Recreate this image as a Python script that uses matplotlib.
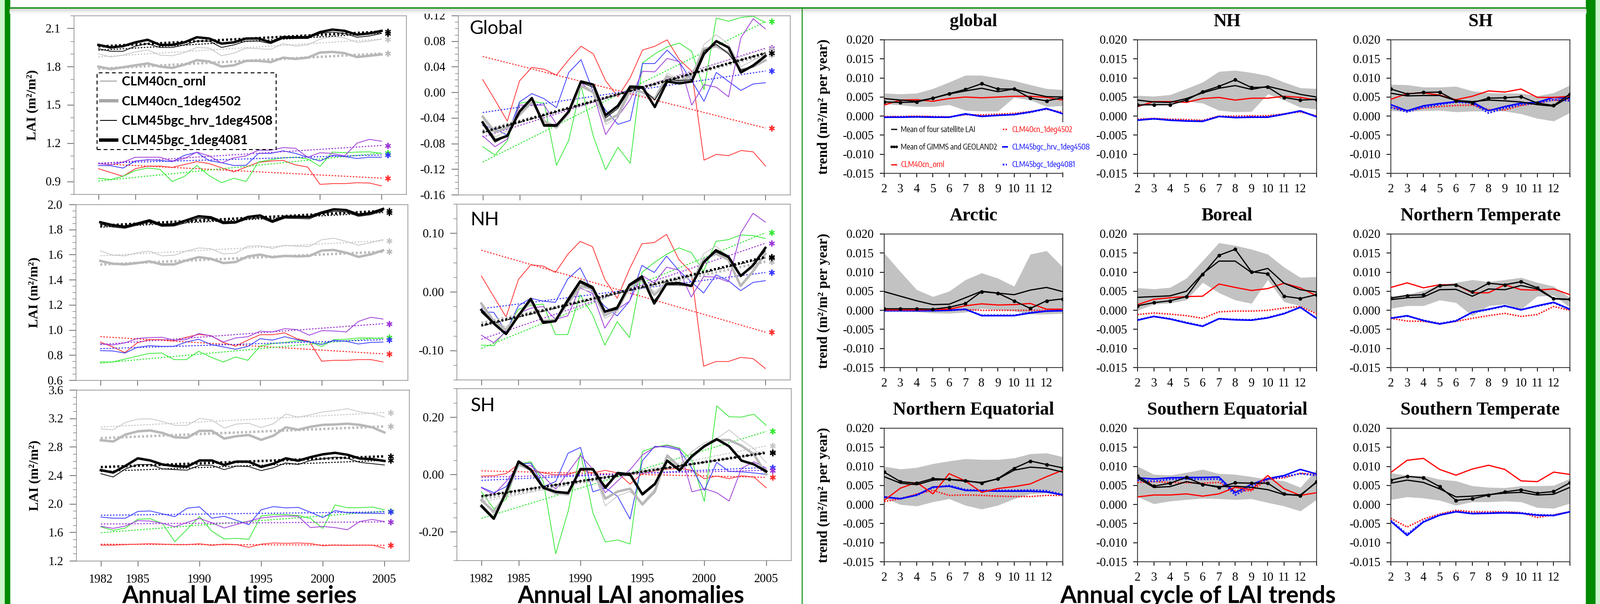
import numpy as np
import matplotlib.pyplot as plt
from matplotlib import font_manager
from matplotlib.font_manager import FontProperties
from matplotlib.lines import Line2D
from matplotlib.patches import Rectangle
from matplotlib.ticker import FixedLocator, FuncFormatter

plt.rcParams['font.family'] = ['Liberation Serif', 'DejaVu Serif']
SANS = ['Lato', 'Open Sans', 'DejaVu Sans']
_names = sorted({f.name for f in font_manager.fontManager.ttflist})
_narrow = [n for n in _names if 'Sans' in n and ('Narrow' in n or 'Condensed' in n)]
if _narrow:
    NARROW, NARROW_SIZE, NARROW_SPACING = [_narrow[0]], 11.5, 1.2
else:
    NARROW, NARROW_SIZE, NARROW_SPACING = ['Liberation Sans', 'DejaVu Sans'], 8.5, 1.9

years = np.arange(1982, 2006)
year_ticks = [1982, 1985, 1990, 1995, 2000, 2005]
months = np.arange(12)
month_labels = ['2', '3', '4', '5', '6', '7', '8', '9', '10', '11', '12', '']

model_names = ['CLM40cn_ornl', 'CLM40cn_1deg4502', 'CLM45bgc_hrv_1deg4508', 'CLM45bgc_1deg4081']
cycle_names = ['Mean of four satellite LAI', 'Mean of GIMMS and GEOLAND2', 'CLM40cn_ornl',
               'CLM40cn_1deg4502', 'CLM45bgc_hrv_1deg4508', 'CLM45bgc_1deg4081']

RED, GREEN, BLUE, PURPLE = '#ff2b2b', '#33e833', '#3434ff', '#9b35d8'
ORNL_C, C4502_C = '#c4c4c4', '#b8b8b8'

# ---------------- annual LAI time series (m2/m2) ----------------
g_ornl = [1.90, 1.875, 1.89, 1.915, 1.93, 1.89, 1.885, 1.91, 1.95, 1.945, 1.885, 1.905, 1.945, 1.94, 1.935, 1.98, 1.96, 1.97, 2.015, 2.035, 2.025, 1.99, 2.00, 2.015]
g_4502 = [1.80, 1.78, 1.795, 1.81, 1.825, 1.80, 1.79, 1.815, 1.85, 1.84, 1.80, 1.81, 1.845, 1.845, 1.835, 1.87, 1.86, 1.87, 1.91, 1.915, 1.905, 1.875, 1.885, 1.895]
g_hrv = [1.94, 1.92, 1.92, 1.96, 1.98, 1.95, 1.95, 1.97, 2.00, 2.00, 1.95, 1.97, 2.00, 2.00, 1.98, 2.02, 2.02, 2.02, 2.06, 2.07, 2.06, 2.03, 2.04, 2.06]
g_bgc = [1.97, 1.95, 1.96, 1.99, 2.01, 1.97, 1.97, 1.99, 2.03, 2.02, 1.98, 1.99, 2.02, 2.02, 1.99, 2.03, 2.03, 2.03, 2.07, 2.09, 2.08, 2.05, 2.06, 2.08]
g_red = [1.00, 0.97, 0.94, 1.00, 1.02, 1.02, 1.01, 1.033, 1.055, 1.04, 1.007, 0.975, 1.013, 1.05, 1.06, 1.065, 1.03, 1.013, 0.877, 0.883, 0.883, 0.89, 0.888, 0.865]
g_green = [0.925, 0.915, 0.94, 0.985, 1.005, 0.995, 0.90, 0.94, 1.025, 0.945, 0.89, 0.925, 0.90, 1.053, 1.07, 1.085, 1.09, 1.077, 1.018, 1.13, 1.125, 1.13, 1.132, 1.12]
g_blue = [1.025, 1.023, 1.005, 1.06, 1.07, 1.065, 1.055, 1.105, 1.128, 1.063, 1.047, 1.025, 1.027, 1.12, 1.12, 1.14, 1.12, 1.09, 1.06, 1.105, 1.095, 1.08, 1.09, 1.09]
g_purple = [1.04, 1.03, 1.05, 1.09, 1.09, 1.09, 1.06, 1.08, 1.13, 1.10, 1.045, 1.085, 1.10, 1.145, 1.145, 1.165, 1.16, 1.09, 1.125, 1.12, 1.10, 1.20, 1.23, 1.215]

n_ornl = [1.63, 1.595, 1.59, 1.615, 1.628, 1.59, 1.595, 1.628, 1.653, 1.647, 1.606, 1.611, 1.667, 1.67, 1.65, 1.675, 1.667, 1.664, 1.718, 1.731, 1.705, 1.675, 1.695, 1.72]
n_4502 = [1.55, 1.528, 1.522, 1.533, 1.546, 1.522, 1.522, 1.554, 1.58, 1.567, 1.533, 1.541, 1.586, 1.60, 1.579, 1.59, 1.586, 1.589, 1.632, 1.637, 1.615, 1.582, 1.602, 1.634]
n_hrv = [1.845, 1.82, 1.81, 1.835, 1.86, 1.825, 1.828, 1.855, 1.89, 1.885, 1.845, 1.85, 1.885, 1.895, 1.855, 1.89, 1.888, 1.885, 1.925, 1.945, 1.94, 1.905, 1.918, 1.95]
n_bgc = [1.858, 1.835, 1.822, 1.847, 1.873, 1.837, 1.84, 1.873, 1.906, 1.897, 1.857, 1.858, 1.90, 1.912, 1.867, 1.902, 1.902, 1.90, 1.935, 1.961, 1.955, 1.918, 1.931, 1.964]
n_red = [0.904, 0.865, 0.82, 0.897, 0.923, 0.923, 0.913, 0.942, 0.964, 0.955, 0.90, 0.871, 0.919, 0.962, 0.962, 0.977, 0.93, 0.91, 0.751, 0.758, 0.758, 0.764, 0.764, 0.745]
n_green = [0.745, 0.745, 0.768, 0.791, 0.813, 0.816, 0.764, 0.764, 0.83, 0.783, 0.745, 0.785, 0.758, 0.871, 0.891, 0.90, 0.913, 0.908, 0.868, 0.923, 0.926, 0.936, 0.936, 0.93]
n_blue = [0.835, 0.833, 0.816, 0.861, 0.875, 0.869, 0.869, 0.904, 0.926, 0.884, 0.865, 0.846, 0.869, 0.93, 0.919, 0.946, 0.923, 0.904, 0.884, 0.917, 0.91, 0.888, 0.901, 0.904]
n_purple = [0.891, 0.88, 0.897, 0.932, 0.939, 0.942, 0.919, 0.923, 0.972, 0.953, 0.904, 0.936, 0.946, 0.99, 0.984, 1.01, 1.003, 0.958, 0.994, 0.992, 0.984, 1.068, 1.101, 1.087]

s_ornl = [3.052, 3.041, 3.143, 3.189, 3.195, 3.155, 3.102, 3.102, 3.20, 3.177, 3.064, 3.12, 3.132, 3.07, 3.125, 3.261, 3.216, 3.25, 3.291, 3.309, 3.336, 3.291, 3.268, 3.218]
s_4502 = [2.893, 2.875, 2.973, 3.018, 3.03, 2.995, 2.934, 2.927, 3.025, 3.025, 2.916, 2.95, 2.966, 2.898, 2.957, 3.075, 3.041, 3.082, 3.109, 3.114, 3.125, 3.109, 3.075, 3.002]
s_hrv = [2.423, 2.377, 2.491, 2.552, 2.552, 2.491, 2.48, 2.473, 2.541, 2.541, 2.48, 2.53, 2.523, 2.466, 2.507, 2.575, 2.552, 2.609, 2.632, 2.655, 2.639, 2.582, 2.564, 2.545]
s_bgc = [2.473, 2.439, 2.534, 2.639, 2.609, 2.552, 2.53, 2.523, 2.609, 2.609, 2.545, 2.593, 2.591, 2.518, 2.564, 2.639, 2.605, 2.655, 2.695, 2.716, 2.689, 2.636, 2.627, 2.602]
s_red = [1.42, 1.42, 1.427, 1.434, 1.439, 1.434, 1.427, 1.427, 1.439, 1.416, 1.434, 1.427, 1.389, 1.434, 1.45, 1.445, 1.45, 1.443, 1.411, 1.42, 1.416, 1.42, 1.42, 1.377]
s_green = [1.677, 1.627, 1.661, 1.784, 1.791, 1.723, 1.468, 1.643, 1.82, 1.616, 1.507, 1.514, 1.502, 1.83, 1.848, 1.848, 1.836, 1.795, 1.655, 1.984, 1.945, 1.945, 1.955, 1.916]
s_blue = [1.814, 1.798, 1.798, 1.893, 1.90, 1.859, 1.82, 1.939, 1.957, 1.798, 1.825, 1.768, 1.707, 1.916, 1.961, 1.943, 1.95, 1.882, 1.807, 1.905, 1.875, 1.87, 1.866, 1.864]
s_purple = [1.684, 1.655, 1.689, 1.764, 1.757, 1.727, 1.677, 1.739, 1.795, 1.734, 1.661, 1.711, 1.757, 1.802, 1.82, 1.83, 1.825, 1.666, 1.682, 1.666, 1.636, 1.752, 1.78, 1.752]

# ---------------- annual LAI anomalies ----------------
ga_ornl = [-0.04, -0.07, -0.06, -0.03, -0.012, -0.05, -0.055, -0.035, 0.01, 0.005, -0.05, -0.04, 0.0, -0.005, -0.01, 0.03, 0.02, 0.025, 0.075, 0.09, 0.075, 0.04, 0.05, 0.06]
ga_4502 = [-0.038, -0.062, -0.055, -0.035, -0.015, -0.045, -0.055, -0.03, 0.01, 0.0, -0.045, -0.035, 0.005, 0.0, -0.01, 0.025, 0.018, 0.025, 0.068, 0.072, 0.062, 0.035, 0.04, 0.05]
ga_hrv = [-0.05, -0.078, -0.068, -0.028, -0.01, -0.05, -0.05, -0.03, 0.015, 0.008, -0.04, -0.025, 0.006, 0.006, -0.012, 0.02, 0.018, 0.02, 0.065, 0.075, 0.06, 0.035, 0.04, 0.055]
ga_bgc = [-0.047, -0.075, -0.068, -0.03, -0.009, -0.052, -0.052, -0.03, 0.017, 0.012, -0.036, -0.021, 0.009, 0.008, -0.023, 0.017, 0.014, 0.017, 0.06, 0.08, 0.07, 0.031, 0.042, 0.057]
ga_red = [0.02, -0.012, -0.045, 0.018, 0.039, 0.036, 0.027, 0.051, 0.072, 0.06, 0.018, -0.007, 0.023, 0.066, 0.072, 0.082, 0.051, 0.033, -0.106, -0.097, -0.099, -0.091, -0.093, -0.115]
ga_green = [-0.085, -0.098, -0.076, -0.017, -0.014, -0.017, -0.114, -0.075, 0.01, -0.069, -0.121, -0.086, -0.111, 0.046, 0.06, 0.071, 0.077, 0.064, 0.004, 0.116, 0.111, 0.117, 0.119, 0.109]
ga_blue = [-0.052, -0.057, -0.067, -0.015, -0.002, -0.01, -0.024, 0.031, 0.051, 0.0, -0.028, -0.05, -0.044, 0.045, 0.045, 0.066, 0.047, 0.018, -0.014, 0.031, 0.017, 0.003, 0.013, 0.015]
ga_purple = [-0.068, -0.085, -0.073, -0.02, -0.02, -0.02, -0.05, -0.03, 0.015, -0.002, -0.066, -0.038, -0.011, 0.033, 0.032, 0.053, 0.048, -0.02, 0.012, 0.008, -0.007, 0.085, 0.115, 0.099]

na_ornl = [-0.025, -0.05, -0.06, -0.042, -0.02, -0.05, -0.05, -0.022, 0.005, 0.0, -0.045, -0.035, 0.005, 0.02, 0.0, 0.015, 0.01, 0.012, 0.065, 0.078, 0.06, 0.03, 0.04, 0.06]
na_4502 = [-0.02, -0.05, -0.065, -0.04, -0.015, -0.05, -0.048, -0.02, 0.01, 0.005, -0.04, -0.03, 0.01, 0.02, -0.005, 0.012, 0.012, 0.01, 0.055, 0.065, 0.055, 0.01, 0.035, 0.065]
na_hrv = [-0.035, -0.055, -0.07, -0.04, -0.015, -0.05, -0.05, -0.018, 0.015, 0.005, -0.035, -0.03, 0.01, 0.022, -0.015, 0.012, 0.012, 0.01, 0.05, 0.068, 0.058, 0.028, 0.045, 0.07]
na_bgc = [-0.031, -0.054, -0.072, -0.041, -0.012, -0.053, -0.05, -0.014, 0.018, 0.008, -0.034, -0.027, 0.012, 0.026, -0.02, 0.014, 0.015, 0.01, 0.05, 0.071, 0.06, 0.027, 0.045, 0.075]
na_red = [0.027, -0.008, -0.043, 0.021, 0.046, 0.044, 0.033, 0.064, 0.086, 0.077, 0.021, -0.011, 0.039, 0.082, 0.084, 0.098, 0.055, 0.033, -0.127, -0.119, -0.119, -0.112, -0.114, -0.131]
na_green = [-0.091, -0.092, -0.065, -0.03, -0.023, -0.021, -0.073, -0.073, -0.005, -0.039, -0.091, -0.051, -0.078, 0.033, 0.05, 0.064, 0.075, 0.067, 0.035, 0.086, 0.089, 0.097, 0.096, 0.091]
na_blue = [-0.034, -0.035, -0.068, -0.024, -0.011, -0.016, -0.018, 0.022, 0.041, -0.001, -0.025, -0.041, -0.016, 0.045, 0.033, 0.061, 0.036, 0.017, -0.002, 0.029, 0.019, 0.002, 0.016, 0.019]
na_purple = [-0.074, -0.087, -0.068, -0.037, -0.028, -0.025, -0.047, -0.041, 0.007, -0.003, -0.062, -0.03, -0.016, 0.028, 0.015, 0.042, 0.037, -0.009, 0.026, 0.025, 0.017, 0.1, 0.134, 0.119]

sa_ornl = [-0.08, -0.14, -0.07, 0.03, 0.02, -0.05, -0.07, -0.07, 0.02, 0.02, -0.11, -0.075, -0.06, -0.1, -0.05, 0.07, 0.03, 0.08, 0.11, 0.125, 0.155, 0.12, 0.09, 0.04]
sa_4502 = [-0.09, -0.13, -0.07, 0.035, 0.015, -0.045, -0.065, -0.07, 0.02, 0.02, -0.085, -0.06, -0.05, -0.105, -0.06, 0.065, 0.025, 0.06, 0.10, 0.12, 0.12, 0.10, 0.07, 0.0]
sa_hrv = [-0.105, -0.15, -0.065, 0.04, 0.018, -0.045, -0.06, -0.065, 0.015, 0.015, -0.04, 0.0, -0.005, -0.065, -0.03, 0.045, 0.012, 0.06, 0.095, 0.12, 0.1, 0.05, 0.035, 0.015]
sa_bgc = [-0.111, -0.155, -0.061, 0.045, 0.016, -0.047, -0.061, -0.065, 0.018, 0.018, -0.047, 0.005, 0.0, -0.07, -0.034, 0.048, 0.014, 0.064, 0.098, 0.123, 0.098, 0.048, 0.035, 0.01]
sa_red = [-0.006, -0.005, 0.003, 0.035, 0.016, 0.005, -0.002, 0.0, 0.014, 0.005, 0.014, 0.005, -0.034, 0.003, 0.012, 0.018, 0.021, 0.014, -0.015, -0.006, -0.015, -0.005, -0.009, -0.047]
sa_green = [-0.061, -0.12, -0.086, 0.036, 0.044, -0.025, -0.277, -0.129, 0.075, -0.134, -0.236, -0.229, -0.243, 0.08, 0.095, 0.103, 0.091, 0.048, -0.095, 0.239, 0.201, 0.2, 0.21, 0.171]
sa_blue = [-0.045, -0.064, -0.043, 0.036, 0.039, -0.043, -0.025, 0.074, 0.094, -0.061, -0.047, -0.077, -0.156, 0.048, 0.098, 0.095, 0.085, 0.021, -0.056, 0.042, 0.01, 0.009, 0.005, 0.0]
sa_purple = [-0.047, -0.07, -0.025, 0.03, 0.03, -0.006, -0.052, 0.007, 0.066, 0.018, -0.064, -0.023, 0.016, 0.068, 0.094, 0.1, 0.089, -0.061, -0.05, -0.064, -0.093, 0.021, 0.044, 0.021]

# ---------------- annual cycle of LAI trends (m2/m2 per year) ----------------
glob_lo = [0.0032, 0.0029, 0.0025, 0.0025, 0.003, 0.0015, 0.0013, 0.0013, 0.0049, 0.0042, 0.0025, 0.0027]
glob_hi = [0.006, 0.0058, 0.006, 0.0072, 0.0089, 0.0107, 0.0107, 0.01, 0.0093, 0.0082, 0.0072, 0.0069]
glob_sat4 = [0.0046, 0.0042, 0.0039, 0.0047, 0.0058, 0.0066, 0.0073, 0.0064, 0.0071, 0.006, 0.0051, 0.005]
glob_gg = [0.0037, 0.0036, 0.0037, 0.0047, 0.0059, 0.007, 0.0085, 0.0071, 0.0071, 0.0047, 0.004, 0.0048]
glob_ornl = [0.0029, 0.0042, 0.0043, 0.0039, 0.0046, 0.005, 0.0048, 0.005, 0.0052, 0.0052, 0.0049, 0.0042]
glob_4502 = [-0.0001, -0.0001, 0.0, -0.0001, -0.0002, 0.0004, 0.0003, 0.0005, 0.0007, 0.0012, 0.0018, 0.001]
glob_hrv = [-0.0003, -0.0003, -0.0002, -0.0003, -0.0003, 0.0006, -0.0001, 0.0002, 0.0004, 0.0011, 0.002, 0.0006]
glob_bgc = [-0.0003, -0.0002, -0.0002, -0.0002, -0.0003, 0.0005, 0.0, 0.0002, 0.0004, 0.001, 0.0019, 0.0007]

nh_lo = [0.003, 0.0028, 0.0034, 0.0039, 0.0034, 0.0015, 0.0011, 0.0012, 0.0058, 0.0042, 0.0023, 0.0018]
nh_hi = [0.0054, 0.0052, 0.0056, 0.0072, 0.0089, 0.0117, 0.012, 0.0114, 0.0106, 0.0089, 0.0074, 0.0072]
nh_sat4 = [0.0042, 0.0037, 0.0036, 0.0046, 0.0061, 0.0073, 0.008, 0.007, 0.0078, 0.0068, 0.0057, 0.005]
nh_gg = [0.0029, 0.003, 0.003, 0.0042, 0.0064, 0.0078, 0.0095, 0.0075, 0.0076, 0.0049, 0.0042, 0.0044]
nh_ornl = [0.0025, 0.0038, 0.0038, 0.0036, 0.0046, 0.0049, 0.0042, 0.0047, 0.0047, 0.0052, 0.0049, 0.0042]
nh_4502 = [-0.0008, -0.0006, -0.0008, -0.0009, -0.0011, 0.0, 0.0, 0.0001, 0.0001, 0.0006, 0.0011, 0.0001]
nh_hrv = [-0.0011, -0.0007, -0.0011, -0.0013, -0.0014, -0.0001, -0.0004, -0.0003, -0.0003, 0.0005, 0.0014, -0.0002]
nh_bgc = [-0.001, -0.0007, -0.001, -0.0012, -0.0013, -0.0001, -0.0003, -0.0002, -0.0002, 0.0005, 0.0013, -0.0001]

sh_lo = [0.0014, 0.0012, 0.0014, 0.0015, 0.0011, 0.0013, 0.0013, 0.0013, 0.0006, -0.0006, -0.0013, 0.0009]
sh_hi = [0.0083, 0.0082, 0.0076, 0.0076, 0.0078, 0.0066, 0.0061, 0.006, 0.006, 0.0053, 0.0061, 0.0081]
sh_sat4 = [0.006, 0.0053, 0.0054, 0.0054, 0.0041, 0.0038, 0.0042, 0.004, 0.0037, 0.003, 0.0026, 0.0051]
sh_gg = [0.0071, 0.0058, 0.0062, 0.0063, 0.004, 0.0035, 0.0047, 0.0048, 0.0051, 0.0034, 0.0028, 0.0058]
sh_ornl = [0.0044, 0.0059, 0.0061, 0.0055, 0.0043, 0.0052, 0.0066, 0.0063, 0.0071, 0.0049, 0.0049, 0.0052]
sh_4502 = [0.0023, 0.0015, 0.0021, 0.0025, 0.0028, 0.0029, 0.0017, 0.0016, 0.0028, 0.0034, 0.0042, 0.0042]
sh_hrv = [0.003, 0.0014, 0.0027, 0.0033, 0.0038, 0.0037, 0.0014, 0.0025, 0.0034, 0.0036, 0.0049, 0.0046]
sh_bgc = [0.0023, 0.0011, 0.0023, 0.003, 0.0037, 0.0034, 0.0008, 0.0021, 0.003, 0.0034, 0.0043, 0.004]

arc_lo = [0.0, -0.0002, -0.0004, -0.0007, -0.0008, -0.0005, 0.0005, 0.0001, -0.0002, -0.001, -0.001, -0.0008]
arc_hi = [0.015, 0.0101, 0.0054, 0.0036, 0.005, 0.008, 0.0098, 0.0084, 0.0063, 0.0147, 0.0156, 0.0113]
arc_sat4 = [0.0049, 0.0037, 0.0025, 0.0015, 0.0016, 0.0033, 0.005, 0.0045, 0.0041, 0.0053, 0.006, 0.0049]
arc_gg = [0.0004, 0.0004, 0.0004, 0.0003, 0.0008, 0.0018, 0.0049, 0.0045, 0.0025, 0.0005, 0.0025, 0.003]
arc_ornl = [0.0001, 0.0001, 0.0001, 0.0002, 0.0003, 0.0012, 0.0017, 0.0014, 0.0015, 0.0018, 0.0003, 0.0003]
arc_4502 = [0.0001, 0.0001, 0.0001, 0.0001, 0.0001, 0.0002, 0.0, 0.0, 0.0, 0.0, 0.0, 0.0]
arc_hrv = [-0.0001, -0.0001, -0.0001, -0.0001, 0.0, 0.0003, -0.0014, -0.0014, -0.0014, -0.0007, -0.0002, -0.0001]
arc_bgc = [-0.0001, -0.0001, -0.0001, -0.0001, 0.0, 0.0002, -0.0013, -0.0013, -0.0013, -0.0006, -0.0002, -0.0001]

bor_lo = [0.0, 0.0016, 0.0019, 0.0027, 0.0073, 0.0046, 0.0027, 0.0018, 0.008, 0.0022, 0.0012, -0.0007]
bor_hi = [0.0059, 0.0056, 0.006, 0.0084, 0.013, 0.0177, 0.017, 0.016, 0.0147, 0.0113, 0.0086, 0.0088]
bor_sat4 = [0.0034, 0.0036, 0.0038, 0.005, 0.0096, 0.0129, 0.0129, 0.0099, 0.011, 0.0071, 0.0054, 0.0048]
bor_gg = [0.0012, 0.002, 0.0025, 0.0036, 0.0094, 0.0144, 0.016, 0.0101, 0.0096, 0.0037, 0.0031, 0.0041]
bor_ornl = [0.0015, 0.0029, 0.0033, 0.0036, 0.0037, 0.0069, 0.006, 0.0052, 0.0057, 0.0071, 0.0059, 0.0038]
bor_4502 = [-0.0011, -0.0007, -0.001, -0.0014, -0.0021, -0.0004, -0.0002, -0.0002, 0.0, 0.0006, 0.001, -0.0009]
bor_hrv = [-0.0026, -0.0016, -0.0023, -0.0033, -0.0042, -0.0022, -0.0025, -0.0026, -0.002, -0.0009, 0.0008, -0.0021]
bor_bgc = [-0.0025, -0.0016, -0.0022, -0.0032, -0.0041, -0.0022, -0.0024, -0.0025, -0.0019, -0.0008, 0.0008, -0.0021]

ntm_lo = [0.0005, 0.0012, 0.0012, 0.0027, 0.002, -0.0014, 0.0012, 0.0016, 0.0003, 0.0037, 0.0039, 0.0008]
ntm_hi = [0.0037, 0.0041, 0.0052, 0.0067, 0.0073, 0.008, 0.0075, 0.008, 0.0086, 0.0073, 0.0063, 0.0033]
ntm_sat4 = [0.0028, 0.0033, 0.0035, 0.0054, 0.0055, 0.0037, 0.0056, 0.0054, 0.0065, 0.0056, 0.003, 0.0028]
ntm_gg = [0.0032, 0.0039, 0.0041, 0.0065, 0.0067, 0.0048, 0.0071, 0.0067, 0.0075, 0.0059, 0.0031, 0.0029]
ntm_ornl = [0.006, 0.0072, 0.0059, 0.0067, 0.0067, 0.0046, 0.0046, 0.0067, 0.0054, 0.0053, 0.0056, 0.0041]
ntm_4502 = [-0.0021, -0.0028, -0.0029, -0.0035, -0.0029, -0.0021, -0.0014, -0.0008, -0.0016, -0.0011, 0.001, 0.0]
ntm_hrv = [-0.0021, -0.0014, -0.0027, -0.0036, -0.0028, -0.0005, 0.0003, 0.0012, 0.0001, 0.0012, 0.0021, 0.0003]
ntm_bgc = [-0.002, -0.0015, -0.0026, -0.0035, -0.0027, -0.0006, 0.0002, 0.0011, 0.0002, 0.0011, 0.002, 0.0002]

neq_lo = [0.0017, 0.0, -0.0004, 0.0007, 0.0015, -0.0002, -0.0012, -0.0002, 0.0015, 0.0028, 0.003, 0.0026]
neq_hi = [0.01, 0.0093, 0.0097, 0.0107, 0.0114, 0.012, 0.0118, 0.0118, 0.0122, 0.0133, 0.0135, 0.0125]
neq_sat4 = [0.0073, 0.0056, 0.0052, 0.0064, 0.0066, 0.0061, 0.0058, 0.0067, 0.009, 0.0098, 0.0095, 0.0085]
neq_gg = [0.0085, 0.006, 0.0056, 0.0068, 0.0066, 0.0063, 0.0056, 0.0068, 0.0095, 0.0114, 0.0105, 0.0096]
neq_ornl = [0.0011, 0.0043, 0.0058, 0.0028, 0.0081, 0.0062, 0.0032, 0.0042, 0.0047, 0.0054, 0.0073, 0.009]
neq_4502 = [0.0008, 0.0015, 0.0028, 0.0037, 0.0024, 0.0025, 0.0024, 0.0022, 0.0021, 0.0021, 0.0024, 0.0024]
neq_hrv = [0.002, 0.0015, 0.0025, 0.0046, 0.0048, 0.0037, 0.0036, 0.0035, 0.0035, 0.0035, 0.0033, 0.0025]
neq_bgc = [0.0019, 0.0016, 0.0024, 0.0044, 0.005, 0.0039, 0.0037, 0.0037, 0.0037, 0.0038, 0.0036, 0.0026]

seq_lo = [0.002, 0.0002, 0.0009, 0.0013, 0.0016, 0.0015, 0.0013, 0.0015, 0.0005, -0.0004, -0.0017, 0.0013]
seq_hi = [0.01, 0.0079, 0.0077, 0.0084, 0.0092, 0.0081, 0.0079, 0.0073, 0.0066, 0.0062, 0.0045, 0.0092]
seq_sat4 = [0.007, 0.0045, 0.0047, 0.006, 0.0053, 0.0047, 0.0048, 0.0045, 0.0039, 0.0026, 0.0025, 0.0058]
seq_gg = [0.0075, 0.0048, 0.0056, 0.0071, 0.0053, 0.0045, 0.0057, 0.0056, 0.0056, 0.0028, 0.0023, 0.006]
seq_ornl = [0.002, 0.0025, 0.0025, 0.0028, 0.0022, 0.0028, 0.0045, 0.0039, 0.0076, 0.0041, 0.0024, 0.0031]
seq_4502 = [0.0058, 0.006, 0.0058, 0.0057, 0.0056, 0.0058, 0.0036, 0.0036, 0.0066, 0.007, 0.0082, 0.0079]
seq_hrv = [0.007, 0.0067, 0.007, 0.0071, 0.0071, 0.0072, 0.0031, 0.0053, 0.0068, 0.0076, 0.0092, 0.008]
seq_bgc = [0.0064, 0.0061, 0.0066, 0.0067, 0.0066, 0.0067, 0.0025, 0.0047, 0.0066, 0.0073, 0.0081, 0.0076]

stm_lo = [0.0013, 0.002, 0.0017, 0.0011, -0.0002, 0.0007, 0.0007, 0.0009, 0.0007, -0.0008, -0.001, 0.0003]
stm_hi = [0.0083, 0.0076, 0.0076, 0.0066, 0.0062, 0.0049, 0.0045, 0.0044, 0.0049, 0.0049, 0.005, 0.0068]
stm_sat4 = [0.0056, 0.0064, 0.0058, 0.0041, 0.002, 0.0022, 0.0026, 0.003, 0.0032, 0.0025, 0.0027, 0.0045]
stm_gg = [0.0064, 0.0074, 0.007, 0.0047, 0.0011, 0.0015, 0.0025, 0.0033, 0.0039, 0.003, 0.0034, 0.0057]
stm_ornl = [0.0084, 0.0116, 0.0121, 0.0092, 0.0077, 0.0093, 0.0103, 0.0092, 0.0062, 0.006, 0.0085, 0.0079]
stm_4502 = [-0.0036, -0.0059, -0.0038, -0.0025, -0.0015, -0.0019, -0.0019, -0.0019, -0.0021, -0.0034, -0.0027, -0.0019]
stm_hrv = [-0.0044, -0.0081, -0.0046, -0.0028, -0.0019, -0.0024, -0.0023, -0.0022, -0.0023, -0.0028, -0.0029, -0.0019]
stm_bgc = [-0.0042, -0.0078, -0.0044, -0.0027, -0.0018, -0.0023, -0.0022, -0.0021, -0.0022, -0.0027, -0.0028, -0.0019]

W, H = 3297, 1244
fig = plt.figure(figsize=(W / 100, H / 100), dpi=100)
fig.patch.set_facecolor('white')


def px_axes(x0, y0, x1, y1):
    # pixel box measured from the top-left corner of the poster
    return fig.add_axes([x0 / W, 1 - y1 / H, (x1 - x0) / W, (y1 - y0) / H])


def fmt(nd):
    return FuncFormatter(lambda v, p: f'{round(v, 6) + 0.0:.{nd}f}')


def steps(lo, hi, step):
    return np.round(np.arange(lo, hi + step / 2, step), 6)


def draw_one(ax, vals, col, lw, tlw, dots):
    vals = np.asarray(vals)
    ax.plot(years, vals, color=col, lw=lw, solid_joinstyle='round')
    k, b = np.polyfit(years, vals, 1)
    ax.plot(years, k * years + b, color=col, lw=tlw, ls=(0, dots))
    ax.plot([2005.5], [k * 2005 + b], ls='none', marker=(6, 2, 0), ms=9, mew=1.6, color=col)


def draw_lai(ax, sats, models):
    for vals, col in zip(sats, [RED, GREEN, BLUE, PURPLE]):
        draw_one(ax, vals, col, 1.1, 1.5, (1.5, 1.5))
    for vals, col, lw in zip(models, [ORNL_C, C4502_C, 'black', 'black'], [1.1, 3.6, 1.1, 3.6]):
        draw_one(ax, vals, col, lw, lw if lw > 2 else 1.5, (0.8, 0.9) if lw > 2 else (1.5, 1.5))


def style_lai(ax, ylim, majors, minor, nd, show_x):
    ax.set_xlim(1980, 2007)
    ax.set_ylim(*ylim)
    ax.xaxis.set_major_locator(FixedLocator(year_ticks))
    ax.yaxis.set_major_locator(FixedLocator(majors))
    ax.yaxis.set_minor_locator(FixedLocator(steps(ylim[0], ylim[1], minor)))
    ax.yaxis.set_major_formatter(fmt(nd))
    ax.tick_params(axis='y', which='major', direction='out', length=10, width=1, color='#555', labelsize=18, pad=9)
    ax.tick_params(axis='y', which='minor', direction='out', length=5, width=0.8, color='#777')
    ax.tick_params(axis='x', direction='out', length=8, width=1, color='#555', labelsize=18, pad=12)
    if not show_x:
        ax.set_xticklabels([])
    for s in ax.spines.values():
        s.set_color('#8a8a8a')
        s.set_linewidth(1.0)


# ---------- left column: annual LAI time series ----------
lai_boxes = [(152, 32, 837, 400), (156, 421, 840, 783), (157, 803, 843, 1155)]
lai_sats = [[g_red, g_green, g_blue, g_purple], [n_red, n_green, n_blue, n_purple], [s_red, s_green, s_blue, s_purple]]
lai_models = [[g_ornl, g_4502, g_hrv, g_bgc], [n_ornl, n_4502, n_hrv, n_bgc], [s_ornl, s_4502, s_hrv, s_bgc]]
lai_ylims = [(0.8, 2.2), (0.6, 2.0), (1.2, 3.6)]
lai_majors = [[0.9, 1.2, 1.5, 1.8, 2.1], steps(0.6, 2.0, 0.2), steps(1.2, 3.6, 0.4)]
lai_minors = [0.1, 0.05, 0.1]

lai_axes = []
for i in range(3):
    ax = px_axes(*lai_boxes[i])
    draw_lai(ax, lai_sats[i], lai_models[i])
    style_lai(ax, lai_ylims[i], lai_majors[i], lai_minors[i], 1, i == 2)
    ax.set_ylabel('LAI (m²/m²)', fontsize=20, fontweight='bold', va='center')
    ax.yaxis.set_label_coords(-0.123, 0.5)
    lai_axes.append(ax)

legend_handles = [Line2D([], [], color='#9a9a9a', lw=1.3), Line2D([], [], color='#a8a8a8', lw=5),
                  Line2D([], [], color='black', lw=1.3), Line2D([], [], color='black', lw=5)]
leg = lai_axes[0].legend(legend_handles, model_names, loc='upper left', bbox_to_anchor=(0.07, 0.68),
                         prop=FontProperties(family=SANS, weight='bold', size=19), frameon=True,
                         fancybox=False, edgecolor='black', framealpha=1, handlelength=1.25,
                         handletextpad=0.45, borderpad=0.25, labelspacing=0.62, borderaxespad=0)
leg.get_frame().set_linestyle((0, (4, 3)))
leg.get_frame().set_linewidth(1.4)

# ---------- middle column: annual LAI anomalies ----------
ano_boxes = [(944, 32, 1628, 401), (941, 420, 1628, 782), (941, 800, 1630, 1154)]
ano_sats = [[ga_red, ga_green, ga_blue, ga_purple], [na_red, na_green, na_blue, na_purple], [sa_red, sa_green, sa_blue, sa_purple]]
ano_models = [[ga_ornl, ga_4502, ga_hrv, ga_bgc], [na_ornl, na_4502, na_hrv, na_bgc], [sa_ornl, sa_4502, sa_hrv, sa_bgc]]
ano_ylims = [(-0.16, 0.12), (-0.15, 0.15), (-0.3, 0.3)]
ano_majors = [steps(-0.16, 0.12, 0.04), [-0.1, 0.0, 0.1], [-0.2, 0.0, 0.2]]
ano_minors = [0.01, 0.025, 0.05]
ano_names = ['Global', 'NH', 'SH']
ano_name_pos = [(0.034, 0.975), (0.042, 0.958), (0.041, 0.95)]

for i in range(3):
    ax = px_axes(*ano_boxes[i])
    draw_lai(ax, ano_sats[i], ano_models[i])
    style_lai(ax, ano_ylims[i], ano_majors[i], ano_minors[i], 2, i == 2)
    ax.text(*ano_name_pos[i], ano_names[i], transform=ax.transAxes, ha='left', va='top',
            fontsize=28, family=SANS)

# ---------- right block: annual cycle of LAI trends ----------
cycle_titles = ['global', 'NH', 'SH', 'Arctic', 'Boreal', 'Northern Temperate',
                'Northern Equatorial', 'Southern Equatorial', 'Southern Temperate']
cycle_data = [
    (glob_lo, glob_hi, glob_sat4, glob_gg, glob_ornl, glob_4502, glob_hrv, glob_bgc),
    (nh_lo, nh_hi, nh_sat4, nh_gg, nh_ornl, nh_4502, nh_hrv, nh_bgc),
    (sh_lo, sh_hi, sh_sat4, sh_gg, sh_ornl, sh_4502, sh_hrv, sh_bgc),
    (arc_lo, arc_hi, arc_sat4, arc_gg, arc_ornl, arc_4502, arc_hrv, arc_bgc),
    (bor_lo, bor_hi, bor_sat4, bor_gg, bor_ornl, bor_4502, bor_hrv, bor_bgc),
    (ntm_lo, ntm_hi, ntm_sat4, ntm_gg, ntm_ornl, ntm_4502, ntm_hrv, ntm_bgc),
    (neq_lo, neq_hi, neq_sat4, neq_gg, neq_ornl, neq_4502, neq_hrv, neq_bgc),
    (seq_lo, seq_hi, seq_sat4, seq_gg, seq_ornl, seq_4502, seq_hrv, seq_bgc),
    (stm_lo, stm_hi, stm_sat4, stm_gg, stm_ornl, stm_4502, stm_hrv, stm_bgc),
]
col_x = [(1822, 2190), (2344, 2713), (2866, 3235)]
row_y = [(82, 357), (482, 757), (882, 1157)]
trend_ticks = [-0.015, -0.01, -0.005, 0.0, 0.005, 0.01, 0.015, 0.02]

cycle_axes = []
for k, (lo, hi, sat4, gg, ornl, c4502, hrv, bgc) in enumerate(cycle_data):
    r, c = divmod(k, 3)
    ax = px_axes(col_x[c][0], row_y[r][0], col_x[c][1], row_y[r][1])
    ax.fill_between(months, lo, hi, color='#c2c2c2', lw=0, zorder=1)
    ax.plot(months, c4502, color='#ff2020', lw=2.2, ls=(0, (1, 0.8)), zorder=3)
    ax.plot(months, bgc, color='#2626ff', lw=2.6, ls=(0, (1, 0.8)), zorder=3)
    ax.plot(months, hrv, color='#0000ff', lw=2.2, zorder=3)
    ax.plot(months, ornl, color='#ff0000', lw=1.8, zorder=4)
    ax.plot(months, sat4, color='black', lw=1.8, zorder=5)
    ax.plot(months, gg, color='black', lw=1.8, marker='o', ms=4.5, zorder=5)
    ax.set_xlim(0, 11)
    ax.set_ylim(-0.015, 0.02)
    ax.set_xticks(months)
    ax.set_xticklabels(month_labels)
    ax.yaxis.set_major_locator(FixedLocator(trend_ticks))
    ax.yaxis.set_major_formatter(fmt(3))
    ax.tick_params(axis='y', direction='out', length=6.5, width=1.2, labelsize=18, pad=9)
    ax.tick_params(axis='x', direction='out', length=5.5, width=1.2, labelsize=18, pad=10)
    for s in ax.spines.values():
        s.set_color('#3a3a3a')
        s.set_linewidth(1.3)
    ax.set_title(cycle_titles[k], fontsize=27, fontweight='bold', pad=20)
    if c == 0:
        ax.set_ylabel('trend (m²/m² per year)', fontsize=21, fontweight='bold', va='center')
        ax.yaxis.set_label_coords(-0.34, 0.5)
    cycle_axes.append(ax)

cycle_handles = [Line2D([], [], color='black', lw=1.8),
                 Line2D([], [], color='black', lw=1.8, marker='o', ms=3),
                 Line2D([], [], color='#ff0000', lw=1.8),
                 Line2D([], [], color='#ff2020', lw=2.2, ls=(0, (1, 0.8))),
                 Line2D([], [], color='#0000ff', lw=2.2),
                 Line2D([], [], color='#2626ff', lw=2.6, ls=(0, (1, 0.8)))]
cleg = cycle_axes[0].legend(cycle_handles, cycle_names, ncol=2, loc='lower left', bbox_to_anchor=(0.008, 0.006),
                            prop=FontProperties(family=NARROW, size=NARROW_SIZE), frameon=True, fancybox=False,
                            facecolor='white', edgecolor='none', framealpha=1, numpoints=3,
                            handlelength=1.2, handletextpad=0.3, columnspacing=0.4,
                            labelspacing=NARROW_SPACING, borderpad=0.45, borderaxespad=0)
for txt, col in zip(cleg.get_texts(), ['black', 'black', '#ff0000', '#ff0000', '#0000ff', '#0000ff']):
    txt.set_color(col)

# ---------- poster decorations ----------
fig.patches.append(Rectangle((0, 0), 10 / W, 1, transform=fig.transFigure, color='#ccf6cc', zorder=0))
fig.patches.append(Rectangle((10 / W, 0), 10 / W, 1, transform=fig.transFigure, color='#008a00', zorder=0))
fig.patches.append(Rectangle((3268 / W, 0), 20 / W, 1, transform=fig.transFigure, color='#008a00', zorder=0))
fig.patches.append(Rectangle((3288 / W, 0), 9 / W, 1, transform=fig.transFigure, color='#ccf6cc', zorder=0))
for j, shade in enumerate(['#d6d6d6', '#e4e4e4', '#eeeeee', '#f6f6f6']):
    fig.patches.append(Rectangle((20 / W, 1 - (19 + 2 * (j + 1)) / H), 3248 / W, 2 / H,
                                 transform=fig.transFigure, color=shade, zorder=0))
fig.add_artist(Line2D([20 / W, 3268 / W], [1 - 16 / H, 1 - 16 / H], transform=fig.transFigure,
                      color='#1a8f1a', lw=2.2))
fig.add_artist(Line2D([1653 / W, 1653 / W], [0, 1 - 16 / H], transform=fig.transFigure,
                      color='#1f9a1f', lw=1.6))

for label, xc in [('Annual LAI time series', 493), ('Annual LAI anomalies', 1300),
                  ('Annual cycle of LAI trends', 2468)]:
    fig.text(xc / W, 2 / H, label, fontsize=35, fontweight='bold', family=SANS, ha='center', va='baseline')

fig.savefig('out.png', dpi=100)
